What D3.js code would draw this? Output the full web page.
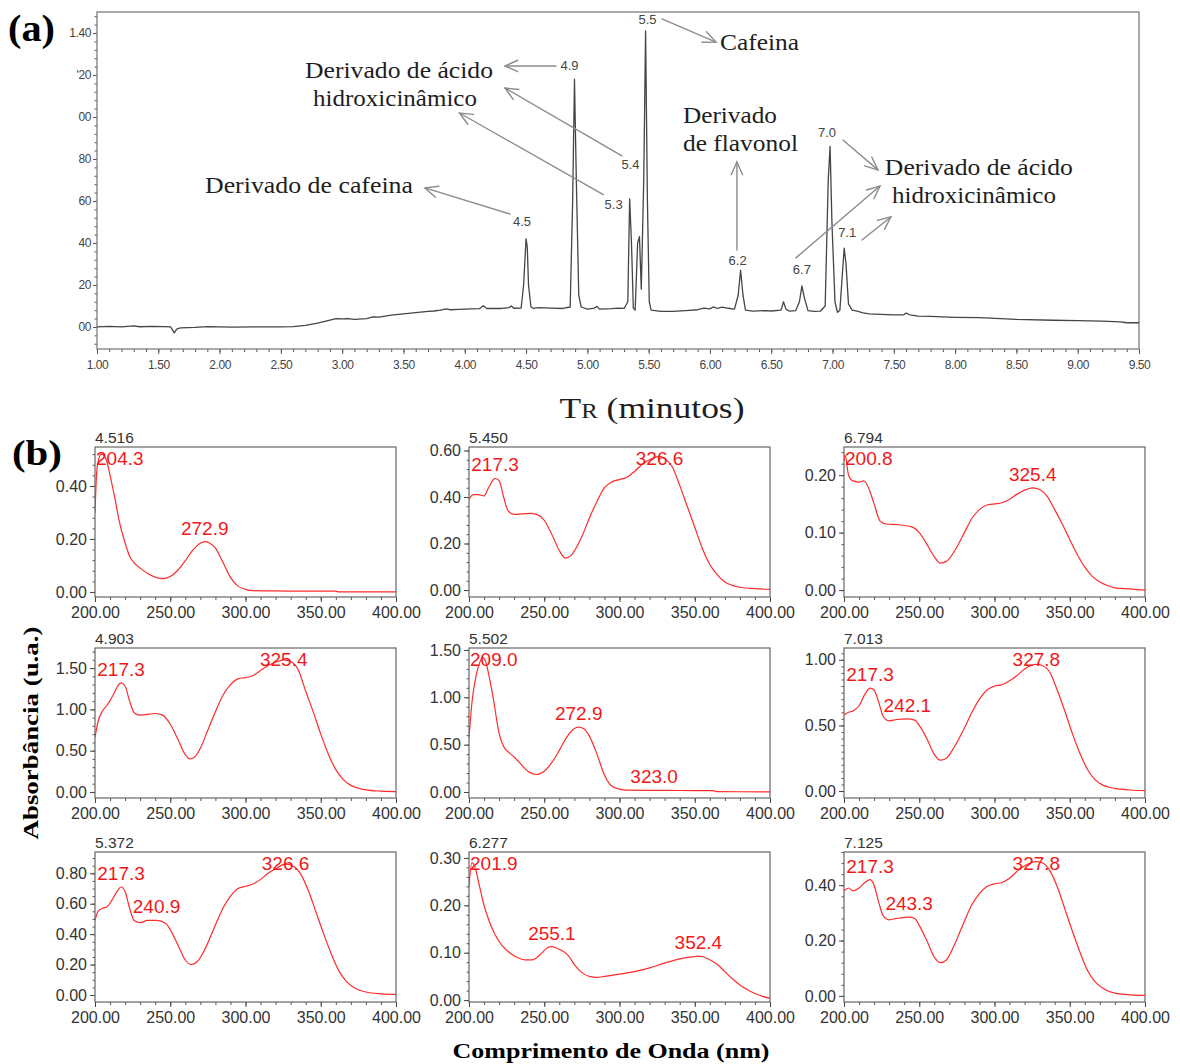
<!DOCTYPE html>
<html>
<head>
<meta charset="utf-8">
<script src="https://cdn.jsdelivr.net/npm/d3@7"></script>
<style>
  body { margin: 0; background: #fff; }
  svg { display: block; }
</style>
</head>
<body>
<svg id="fig" width="1180" height="1064"></svg>
<script>
// ---------------- (a) chromatogram data ----------------
const chromTime = [1.00,1.10,1.20,1.30,1.35,1.45,1.55,1.60,1.63,1.65,1.68,1.80,1.90,2.00,2.10,2.30,2.50,2.60,2.70,2.80,2.90,2.95,3.00,3.05,3.10,3.20,3.25,3.30,3.35,3.40,3.50,3.60,3.70,3.75,3.80,3.85,3.88,3.95,4.05,4.12,4.15,4.18,4.30,4.36,4.38,4.40,4.46,4.48,4.50,4.51,4.52,4.54,4.56,4.60,4.70,4.80,4.86,4.88,4.895,4.91,4.93,4.95,5.00,5.05,5.08,5.10,5.20,5.25,5.30,5.33,5.345,5.36,5.375,5.39,5.41,5.425,5.44,5.46,5.475,5.49,5.505,5.52,5.60,5.70,5.80,5.90,5.95,6.00,6.03,6.06,6.10,6.15,6.20,6.23,6.25,6.27,6.29,6.35,6.45,6.50,6.58,6.60,6.62,6.65,6.70,6.73,6.75,6.77,6.80,6.85,6.90,6.94,6.965,6.98,6.995,7.02,7.04,7.06,7.08,7.095,7.11,7.13,7.16,7.20,7.25,7.30,7.40,7.50,7.58,7.60,7.63,7.70,7.80,8.00,8.20,8.50,8.80,9.00,9.20,9.35,9.40,9.50];
const chromAbs  = [0.000,0.003,0.000,0.005,0.001,0.003,0.002,0.000,-0.028,-0.010,-0.004,-0.002,0.002,0.000,-0.001,0.000,0.000,0.002,0.008,0.018,0.033,0.040,0.038,0.040,0.036,0.040,0.048,0.047,0.052,0.056,0.062,0.068,0.074,0.076,0.080,0.086,0.082,0.084,0.086,0.087,0.101,0.088,0.088,0.092,0.100,0.089,0.090,0.200,0.420,0.380,0.200,0.095,0.088,0.092,0.090,0.088,0.095,0.600,1.180,0.700,0.150,0.095,0.085,0.088,0.098,0.085,0.087,0.090,0.088,0.120,0.610,0.400,0.090,0.080,0.400,0.430,0.180,0.700,1.410,0.600,0.120,0.080,0.074,0.074,0.078,0.082,0.090,0.086,0.096,0.088,0.094,0.089,0.085,0.150,0.270,0.150,0.080,0.075,0.078,0.076,0.080,0.120,0.085,0.075,0.078,0.120,0.195,0.140,0.078,0.074,0.075,0.100,0.700,0.860,0.500,0.120,0.070,0.080,0.250,0.375,0.300,0.110,0.080,0.075,0.067,0.062,0.060,0.058,0.058,0.066,0.058,0.052,0.050,0.046,0.044,0.036,0.032,0.030,0.028,0.024,0.020,0.020];

const chromTimeTicks = [1.0,1.5,2.0,2.5,3.0,3.5,4.0,4.5,5.0,5.5,6.0,6.5,7.0,7.5,8.0,8.5,9.0,9.5];
const chromAbsTicks = [0.0,0.2,0.4,0.6,0.8,1.0,1.2,1.4];
const chromAbsTickLabels = ["00","20","40","60","80","00","'20","1.40"];

// retention times of the labelled peaks
const peakTimes  = [4.50, 4.895, 5.345, 5.425, 5.475, 6.25, 6.75, 6.98, 7.095];
const peakLabels = ["4.5","4.9","5.3","5.4","5.5","6.2","6.7","7.0","7.1"];

// compound names written on the chromatogram
const compoundText = ["Derivado de ácido","hidroxicinâmico","Derivado de cafeina","Cafeina","Derivado","de flavonol","Derivado de ácido","hidroxicinâmico"];

// ---------------- (b) UV spectra data ----------------
const spectrumTitles = ["4.516","5.450","6.794","4.903","5.502","7.013","5.372","6.277","7.125"];

const wl4516 = [200,201,202,204.3,206,208,210,213,216,220,223,226,230,235,240,245,250,255,260,265,270,272.9,276,280,285,290,295,300,305,320,340,360,362,380,400];
const ab4516 = [0.30,0.44,0.49,0.52,0.515,0.49,0.44,0.36,0.27,0.185,0.135,0.11,0.09,0.07,0.056,0.05,0.058,0.082,0.118,0.158,0.184,0.19,0.185,0.165,0.112,0.055,0.022,0.01,0.005,0.004,0.003,0.003,0.0,0.0,0.0];

const wl5450 = [200,203,206,210,213,217.3,220,223,226,230,240,245,250,255,260,264,268,275,280,285,290,295,300,305,310,315,320,326.6,330,335,340,345,350,355,360,365,370,375,380,390,400];
const ab5450 = [0.39,0.41,0.41,0.405,0.44,0.48,0.47,0.40,0.34,0.325,0.33,0.325,0.30,0.24,0.17,0.137,0.15,0.23,0.31,0.38,0.44,0.465,0.475,0.485,0.51,0.54,0.56,0.575,0.565,0.53,0.45,0.36,0.27,0.18,0.11,0.065,0.035,0.02,0.012,0.006,0.003];

const wl6794 = [200,200.8,203,206,210,213,216,220,224,228,235,245,250,255,260,264,268,275,280,285,290,295,300,305,310,315,320,325.4,330,335,340,345,350,355,360,365,370,375,380,390,400];
const ab6794 = [0.225,0.235,0.20,0.19,0.188,0.19,0.18,0.15,0.12,0.115,0.114,0.11,0.10,0.08,0.058,0.047,0.05,0.075,0.10,0.125,0.14,0.148,0.15,0.152,0.158,0.167,0.174,0.178,0.175,0.163,0.14,0.115,0.088,0.062,0.04,0.024,0.014,0.008,0.004,0.002,0.0];

const wl4903 = [200,202,205,208,212,215,217.3,220,223,226,230,240,245,250,255,260,263,266,270,275,280,285,290,295,300,305,310,315,320,325.4,330,335,340,345,350,355,360,365,370,375,380,390,400];
const ab4903 = [0.66,0.85,0.98,1.05,1.17,1.28,1.32,1.28,1.10,0.96,0.93,0.95,0.93,0.82,0.64,0.45,0.40,0.42,0.53,0.75,0.97,1.17,1.30,1.37,1.385,1.41,1.47,1.53,1.57,1.60,1.58,1.48,1.22,0.97,0.70,0.46,0.27,0.15,0.08,0.045,0.025,0.01,0.005];

const wl5502 = [200,202,205,207,209,211,213,216,220,223,227,230,233,237,240,245,250,255,260,265,270,272.9,276,280,285,290,295,300,305,323,340,362,365,400];
const ab5502 = [0.57,0.95,1.25,1.36,1.42,1.38,1.25,1.00,0.62,0.48,0.41,0.37,0.32,0.25,0.21,0.185,0.22,0.31,0.44,0.58,0.67,0.685,0.67,0.59,0.40,0.18,0.06,0.03,0.02,0.018,0.016,0.015,0.004,0.002];

const wl7013 = [200,203,206,210,214,217.3,220,223,226,230,235,242.1,247,250,255,260,264,268,273,280,285,290,295,300,305,310,315,320,327.8,332,337,342,347,352,357,362,367,372,380,390,400];
const ab7013 = [0.58,0.60,0.61,0.65,0.74,0.785,0.77,0.68,0.57,0.535,0.545,0.55,0.54,0.50,0.40,0.28,0.235,0.25,0.33,0.48,0.60,0.70,0.77,0.80,0.81,0.84,0.88,0.93,0.965,0.955,0.90,0.76,0.60,0.43,0.28,0.16,0.085,0.045,0.02,0.008,0.003];

const wl5372 = [200,202,205,208,211,214,217.3,220,223,226,230,235,240.9,247,250,255,260,264,268,273,280,285,290,295,300,305,310,315,320,326.6,332,337,342,347,352,357,362,367,372,380,390,400];
const ab5372 = [0.49,0.55,0.57,0.58,0.62,0.67,0.71,0.68,0.57,0.49,0.475,0.49,0.49,0.47,0.43,0.33,0.23,0.20,0.22,0.30,0.46,0.57,0.65,0.70,0.715,0.73,0.76,0.80,0.83,0.86,0.845,0.79,0.68,0.54,0.40,0.27,0.16,0.09,0.05,0.02,0.008,0.004];

const wl6277 = [200,201.9,204,207,210,213,217,222,227,232,237,242,247,252,255.1,258,262,266,270,275,280,285,290,300,310,320,330,340,350,352.4,355,360,365,370,375,380,385,390,395,400];
const ab6277 = [0.24,0.29,0.28,0.24,0.20,0.17,0.14,0.115,0.10,0.09,0.085,0.085,0.095,0.11,0.113,0.11,0.104,0.094,0.075,0.058,0.05,0.048,0.05,0.055,0.06,0.068,0.078,0.087,0.092,0.093,0.092,0.085,0.075,0.06,0.045,0.032,0.022,0.014,0.008,0.004];

const wl7125 = [200,203,206,210,214,217.3,220,223,226,230,235,243.3,247,250,255,260,264,268,273,280,285,290,295,300,305,310,315,320,327.8,332,337,342,347,352,357,362,367,372,380,390,400];
const ab7125 = [0.38,0.39,0.38,0.39,0.41,0.42,0.40,0.34,0.29,0.275,0.28,0.285,0.28,0.255,0.20,0.14,0.12,0.13,0.18,0.27,0.33,0.37,0.395,0.405,0.41,0.425,0.45,0.47,0.485,0.48,0.45,0.39,0.31,0.23,0.155,0.09,0.05,0.028,0.01,0.004,0.002];

const spectrumWavelengths = [wl4516, wl5450, wl6794, wl4903, wl5502, wl7013, wl5372, wl6277, wl7125];
const spectrumAbsorbances = [ab4516, ab5450, ab6794, ab4903, ab5502, ab7013, ab5372, ab6277, ab7125];

// wavelengths of the marked maxima / shoulders (nm)
const spectrumMaxima = [
  [204.3, 272.9], [217.3, 326.6], [200.8, 325.4],
  [217.3, 325.4], [209.0, 272.9, 323.0], [217.3, 242.1, 327.8],
  [217.3, 240.9, 326.6], [201.9, 255.1, 352.4], [217.3, 243.3, 327.8]
];
const spectrumYTicks = [
  [0, 0.2, 0.4], [0, 0.2, 0.4, 0.6], [0, 0.1, 0.2],
  [0, 0.5, 1.0, 1.5], [0, 0.5, 1.0, 1.5], [0, 0.5, 1.0],
  [0, 0.2, 0.4, 0.6, 0.8], [0, 0.1, 0.2, 0.3], [0, 0.2, 0.4]
];
const wavelengthTicks = [200, 250, 300, 350, 400];

// ---------------- drawing ----------------
const svg = d3.select("#fig");
const sans = "'Liberation Sans', Arial, sans-serif";
const serif = "'Liberation Serif', 'Times New Roman', serif";

function styleAxis(g, color, fontSize) {
  g.select(".domain").remove();
  g.selectAll(".tick line").attr("stroke", color);
  g.selectAll(".tick text").attr("fill", "#333").style("font-family", sans).style("font-size", fontSize + "px");
}

// ===== (a) =====
const A = { left: 97, right: 1139, top: 12, bottom: 349 };
const cx = d3.scaleLinear().domain([1, 9.5]).range([A.left, A.right]);
const cy = d3.scaleLinear().domain([-0.105, 1.5]).range([A.bottom, A.top]);
const gA = svg.append("g");

// minor ticks
gA.append("g").attr("transform", `translate(0,${A.bottom})`)
  .call(d3.axisBottom(cx).tickValues(d3.range(10, 96).map(d => d / 10)).tickFormat("").tickSize(3))
  .call(g => styleAxis(g, "#555", 11));
gA.append("g").attr("transform", `translate(${A.left},0)`)
  .call(d3.axisLeft(cy).tickValues(d3.range(-2, 38).map(d => d * 0.04)).tickFormat("").tickSize(2.5))
  .call(g => styleAxis(g, "#555", 11));
// major ticks
gA.append("g").attr("transform", `translate(0,${A.bottom})`)
  .call(d3.axisBottom(cx).tickValues(chromTimeTicks).tickFormat(d3.format(".2f")).tickSize(5).tickPadding(6))
  .call(g => styleAxis(g, "#555", 12))
  .call(g => g.selectAll(".tick text").attr("fill", "#444").attr("letter-spacing", "-0.4"));
gA.append("g").attr("transform", `translate(${A.left},0)`)
  .call(d3.axisLeft(cy).tickValues(chromAbsTicks).tickFormat((d, i) => chromAbsTickLabels[i]).tickSize(4).tickPadding(2))
  .call(g => styleAxis(g, "#555", 12))
  .call(g => g.selectAll(".tick text").attr("fill", "#444").attr("letter-spacing", "-0.4"));

gA.append("rect")
  .attr("x", A.left).attr("y", A.top)
  .attr("width", A.right - A.left).attr("height", A.bottom - A.top)
  .attr("fill", "none").attr("stroke", "#7d7d7d").attr("stroke-width", 1.3);

const chromPts = chromTime.map((t, i) => [t, chromAbs[i]]);
gA.append("path")
  .datum(chromPts)
  .attr("fill", "none").attr("stroke", "#454545").attr("stroke-width", 1.3)
  .attr("stroke-linejoin", "round")
  .attr("d", d3.line().x(d => cx(d[0])).y(d => cy(d[1])));

// peak labels, offset (px) from each apex
const peakLabelOffset = [[-4,-17],[-5,-14],[-16,6],[-9,-72],[2,-11],[-3,-10],[0,-17],[-3,-14],[3,-16]];
function apexValue(t) {
  const i = d3.minIndex(chromTime, v => Math.abs(v - t));
  return chromAbs[i];
}
gA.selectAll("text.peak").data(peakTimes).join("text")
  .attr("class", "peak")
  .attr("x", (t, i) => cx(t) + peakLabelOffset[i][0])
  .attr("y", (t, i) => cy(apexValue(t)) + peakLabelOffset[i][1])
  .attr("dy", "0.35em")
  .attr("text-anchor", "middle")
  .attr("fill", "#444")
  .style("font-family", sans).style("font-size", "13px")
  .text((t, i) => peakLabels[i]);

// compound names: [time, absorbance] of the text start, width in px
const namePlacement = [[2.697,1.186,188],[2.762,1.052,164],[1.881,0.638,208],[6.082,1.319,79],[5.780,0.971,94],[5.780,0.838,115],[7.427,0.724,188],[7.485,0.590,164]];
gA.selectAll("text.name").data(compoundText).join("text")
  .attr("class", "name")
  .attr("x", (d, i) => cx(namePlacement[i][0]))
  .attr("y", (d, i) => cy(namePlacement[i][1]))
  .attr("textLength", (d, i) => namePlacement[i][2])
  .attr("lengthAdjust", "spacingAndGlyphs")
  .attr("fill", "#1e1e1e")
  .style("font-family", serif).style("font-size", "22.5px")
  .text(d => d);

// arrows from the peak labels to the compound names ([t0,v0] -> [t1,v1], head at the end)
const arrows = [
  [[4.744,1.243],[4.328,1.243]],
  [[5.282,0.815],[4.328,1.138]],
  [[5.130,0.630],[3.957,1.019]],
  [[4.369,0.538],[3.675,0.662]],
  [[5.608,1.467],[6.049,1.357]],
  [[6.220,0.367],[6.220,0.786]],
  [[7.085,0.890],[7.370,0.748]],
  [[6.701,0.329],[7.387,0.671]],
  [[7.240,0.414],[7.476,0.524]]
];
const arrowG = gA.append("g").attr("fill", "none").attr("stroke", "#8c8c8c").attr("stroke-width", 1.4).attr("stroke-linecap", "round");
arrows.forEach(([p0, p1]) => {
  const x0 = cx(p0[0]), y0 = cy(p0[1]), x1 = cx(p1[0]), y1 = cy(p1[1]);
  const ang = Math.atan2(y0 - y1, x0 - x1);
  const L = 14, w = 0.42;
  arrowG.append("path").attr("d", `M${x0},${y0}L${x1},${y1}`);
  arrowG.append("path").attr("d",
    `M${x1 + L * Math.cos(ang + w)},${y1 + L * Math.sin(ang + w)}L${x1},${y1}L${x1 + L * Math.cos(ang - w)},${y1 + L * Math.sin(ang - w)}`);
});

// x-axis title: T with small capital R
const tTitle = svg.append("text")
  .attr("x", 652).attr("y", 418).attr("text-anchor", "middle")
  .attr("textLength", 185).attr("lengthAdjust", "spacingAndGlyphs")
  .attr("fill", "#1e1e1e").style("font-family", serif).style("font-size", "30px");
tTitle.append("tspan").text("T");
tTitle.append("tspan").style("font-size", "21px").text("R");
tTitle.append("tspan").text(" (minutos)");

svg.append("text").attr("x", 8).attr("y", 41)
  .attr("textLength", 47).attr("lengthAdjust", "spacingAndGlyphs")
  .style("font-family", serif).style("font-weight", "bold").style("font-size", "37px").text("(a)");

// ===== (b) =====
svg.append("text").attr("x", 12).attr("y", 465)
  .attr("textLength", 50).attr("lengthAdjust", "spacingAndGlyphs")
  .style("font-family", serif).style("font-weight", "bold").style("font-size", "36px").text("(b)");

const colLeft = [95, 469, 844];
const rowTop = [447, 648, 852];
const panelW = 301, panelH = 150;
const panelYDomain = [
  [-0.019, 0.547], [-0.030, 0.615], [-0.012, 0.249],
  [-0.073, 1.743], [-0.063, 1.52], [-0.053, 1.09],
  [-0.046, 0.94], [-0.004, 0.3125], [-0.022, 0.52]
];
const panelMinorStep = [0.04, 0.04, 0.02, 0.1, 0.1, 0.05, 0.05, 0.02, 0.04];

spectrumTitles.forEach((title, k) => {
  const left = colLeft[k % 3], top = rowTop[Math.floor(k / 3)];
  const bottom = top + panelH, right = left + panelW;
  const x = d3.scaleLinear().domain([200, 400]).range([left, right]);
  const y = d3.scaleLinear().domain(panelYDomain[k]).range([bottom, top]);
  const g = svg.append("g");

  // minor ticks
  g.append("g").attr("transform", `translate(0,${bottom})`)
    .call(d3.axisBottom(x).tickValues(d3.range(200, 401, 10)).tickFormat("").tickSize(3))
    .call(a => styleAxis(a, "#555", 16));
  const st = panelMinorStep[k];
  const yMinor = d3.range(0, Math.floor(panelYDomain[k][1] / st) + 1).map(i => +(i * st).toFixed(4));
  g.append("g").attr("transform", `translate(${left},0)`)
    .call(d3.axisLeft(y).tickValues(yMinor).tickFormat("").tickSize(2.5))
    .call(a => styleAxis(a, "#555", 16));
  // major ticks
  g.append("g").attr("transform", `translate(0,${bottom})`)
    .call(d3.axisBottom(x).tickValues(wavelengthTicks).tickFormat(d3.format(".2f")).tickSize(5).tickPadding(5))
    .call(a => styleAxis(a, "#444", 16));
  g.append("g").attr("transform", `translate(${left},0)`)
    .call(d3.axisLeft(y).tickValues(spectrumYTicks[k]).tickFormat(d3.format(".2f")).tickSize(5).tickPadding(3))
    .call(a => styleAxis(a, "#444", 16));

  g.append("rect").attr("x", left).attr("y", top).attr("width", panelW).attr("height", panelH)
    .attr("fill", "none").attr("stroke", "#666").attr("stroke-width", 1.2);

  g.append("text").attr("x", left).attr("y", top - 4)
    .attr("fill", "#333").style("font-family", sans).style("font-size", "15.5px").text(title);

  const clipId = "clip" + k;
  svg.append("clipPath").attr("id", clipId).append("rect")
    .attr("x", left).attr("y", top).attr("width", panelW).attr("height", panelH);

  const wl = spectrumWavelengths[k], ab = spectrumAbsorbances[k];
  const pts = wl.map((w, i) => [w, ab[i]]);
  g.append("path").datum(pts)
    .attr("clip-path", `url(#${clipId})`)
    .attr("fill", "none").attr("stroke", "#ff2b2b").attr("stroke-width", 1.2)
    .attr("d", d3.line().curve(d3.curveMonotoneX).x(d => x(d[0])).y(d => y(d[1])));

  // maxima labels, placed just above the curve and kept inside the box
  spectrumMaxima[k].forEach(m => {
    const i = d3.minIndex(wl, w => Math.abs(w - m));
    const py = y(ab[i]);
    const t = g.append("text")
      .attr("y", Math.max(top + 18, py - 7))
      .attr("fill", "#f01818")
      .style("font-family", sans).style("font-size", "19px")
      .text(d3.format(".1f")(m));
    const w = t.node().getComputedTextLength();
    let tx = x(m) - w / 2;
    if (tx < left + 1) tx = left + 1;
    t.attr("x", tx);
  });
});

// shared axis titles of the spectra grid
svg.append("text")
  .attr("transform", "translate(38,733) rotate(-90)")
  .attr("text-anchor", "middle")
  .attr("textLength", 213).attr("lengthAdjust", "spacingAndGlyphs")
  .style("font-family", serif).style("font-weight", "bold").style("font-size", "21px")
  .text("Absorbância  (u.a.)");

svg.append("text")
  .attr("x", 611).attr("y", 1058).attr("text-anchor", "middle")
  .attr("textLength", 317).attr("lengthAdjust", "spacingAndGlyphs")
  .style("font-family", serif).style("font-weight", "bold").style("font-size", "21px")
  .text("Comprimento  de Onda (nm)");
</script>
</body>
</html>
